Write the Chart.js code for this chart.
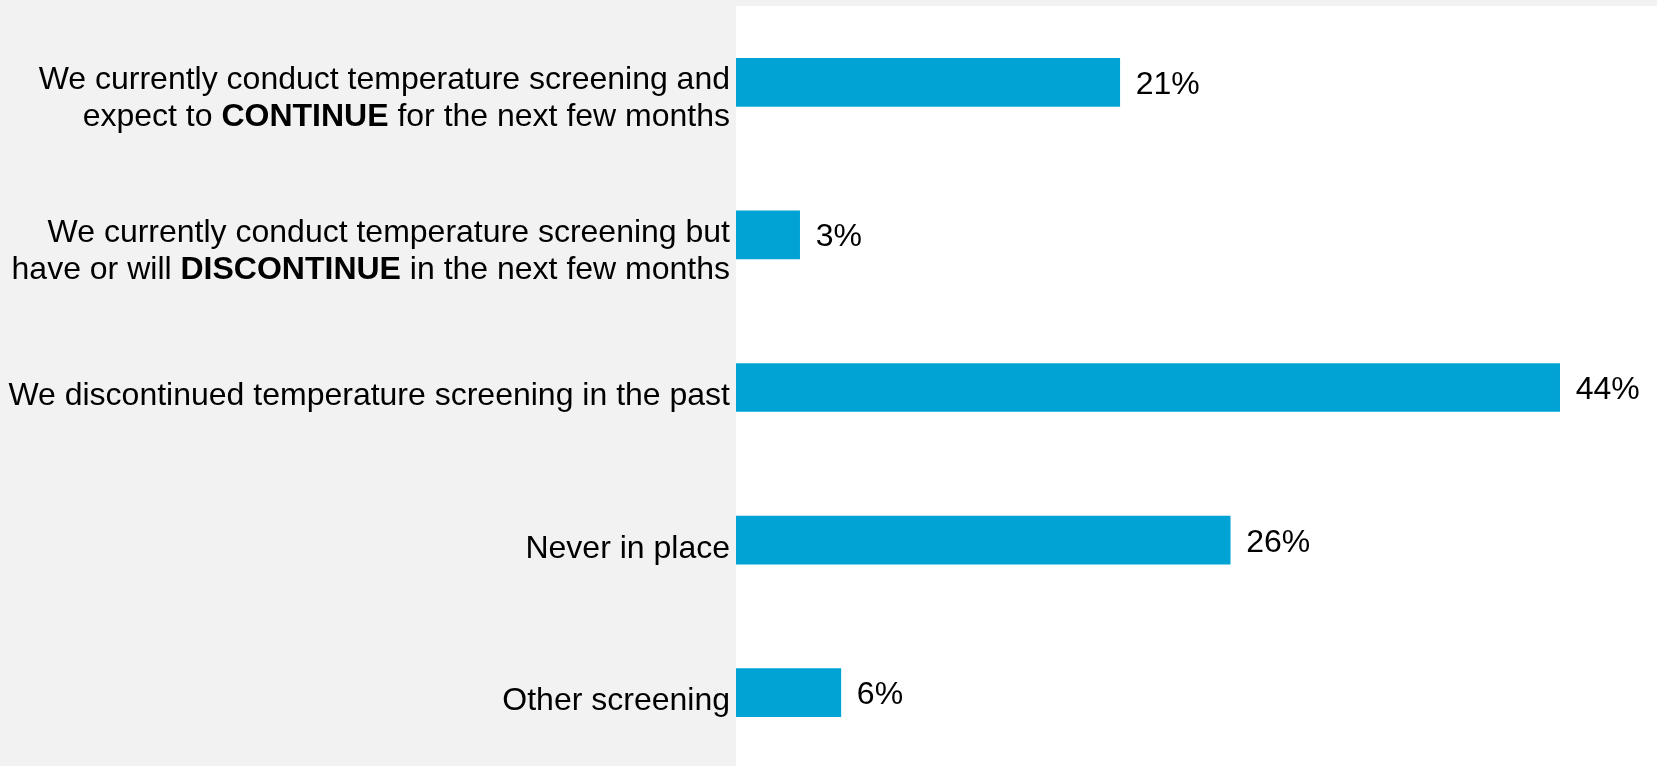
<!DOCTYPE html>
<html>
<head>
<meta charset="utf-8">
<script src="https://cdn.jsdelivr.net/npm/chart.js@4/dist/chart.umd.min.js"></script>
<style>
  html, body { margin: 0; padding: 0; background: #f2f2f2; overflow: hidden; }
  #wrap { position: relative; width: 1657px; height: 769px; }
</style>
</head>
<body>
<div id="wrap"><canvas id="c"></canvas></div>
<script>
// Category labels (lines; **...** marks bold words)
const categories = [
  ["We currently conduct temperature screening and", "expect to **CONTINUE** for the next few months"],
  ["We currently conduct temperature screening but", "have or will **DISCONTINUE** in the next few months"],
  ["We discontinued temperature screening in the past"],
  ["Never in place"],
  ["Other screening"]
];
// Share of respondents (%)
const values = [20.5, 3.4, 44.0, 26.4, 5.6];
const axisMin = 0;
const axisMax = 49.2;

const FONT = '"Liberation Sans", Arial, sans-serif';
const FS = 32;

function parseSegments(line) {
  const parts = line.split('**');
  return parts.map((t, i) => ({ text: t, bold: i % 2 === 1 })).filter(s => s.text.length);
}

const bgPlugin = {
  id: 'bg',
  beforeDraw(chart) {
    const { ctx, chartArea: a } = chart;
    ctx.save();
    ctx.fillStyle = '#ffffff';
    ctx.fillRect(a.left, a.top, a.right - a.left, a.bottom - a.top);
    ctx.restore();
  }
};

const labelPlugin = {
  id: 'labels',
  afterDatasetsDraw(chart) {
    const { ctx, chartArea: a } = chart;
    const yScale = chart.scales.y;
    const meta = chart.getDatasetMeta(0);
    ctx.save();
    ctx.fillStyle = '#000000';
    ctx.textBaseline = 'alphabetic';
    // category labels, right-aligned left of plot area
    categories.forEach((lines, i) => {
      const n = lines.length;
      const yc = yScale.getPixelForValue(i) + (n > 1 ? 14 : 6);
      const lh = 37;
      lines.forEach((line, j) => {
        const cy = yc + (j - (n - 1) / 2) * lh;
        const base = cy + 11.5;
        const segs = parseSegments(line);
        let total = 0;
        segs.forEach(s => {
          ctx.font = (s.bold ? 'bold ' : '') + FS + 'px ' + FONT;
          s.w = ctx.measureText(s.text).width;
          total += s.w;
        });
        let x = a.left - 6 - total;
        ctx.textAlign = 'left';
        segs.forEach(s => {
          ctx.font = (s.bold ? 'bold ' : '') + FS + 'px ' + FONT;
          ctx.fillText(s.text, x, base);
          x += s.w;
        });
      });
    });
    // value labels
    ctx.font = FS + 'px ' + FONT;
    ctx.textAlign = 'left';
    meta.data.forEach((el, i) => {
      ctx.fillText(Math.round(values[i]) + '%', el.x + 16, el.y + 11.5);
    });
    ctx.restore();
  }
};

new Chart(document.getElementById('c'), {
  type: 'bar',
  data: {
    labels: categories.map(l => l.join(' ').replace(/\*\*/g, '')),
    datasets: [{
      data: values,
      backgroundColor: '#00a3d4',
      borderWidth: 0,
      barThickness: 48
    }]
  },
  options: {
    indexAxis: 'y',
    responsive: true,
    maintainAspectRatio: false,
    animation: false,
    layout: { padding: { left: 736, top: 6, right: 0, bottom: 0 } },
    scales: {
      x: { display: false, min: axisMin, max: axisMax },
      y: { display: false }
    },
    plugins: {
      legend: { display: false },
      tooltip: { enabled: false }
    }
  },
  plugins: [bgPlugin, labelPlugin]
});
</script>
</body>
</html>
